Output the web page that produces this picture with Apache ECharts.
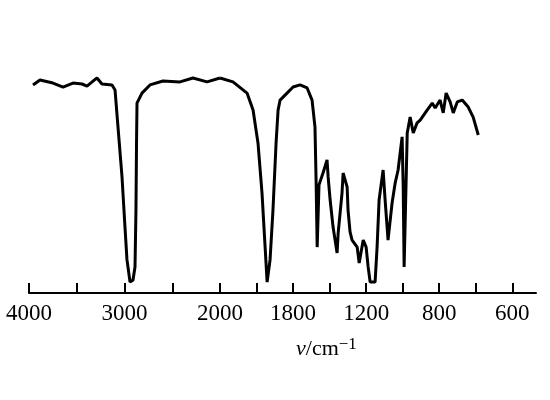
<!DOCTYPE html>
<html><head><meta charset="utf-8">
<script src="https://cdn.jsdelivr.net/npm/echarts@6/dist/echarts.min.js"></script>
<style>html,body{margin:0;padding:0;background:#fff}#c{width:550px;height:400px}</style>
</head><body><div id="c"></div>
<script>
// Wavenumbers (cm^-1) and transmittance (%)
const wnHigh = [3958,3885,3749,3644,3539,3445,3393,3288,3236,3131,3099,3068,3026,2995,2974,2942,2911,2890,2880,2874,2869,2817,2733,2597,2419,2283,2136,2000];
const tHigh  = [89.3,91.4,90.1,88.4,90.1,89.7,88.8,92.3,89.7,89.3,87.1,71.2,49.8,28.3,14.2,4.7,5.6,11.2,35.6,64.4,81.5,85.8,89.3,91.0,90.6,92.3,90.6,92.3];
const wnLow = [2000,1929,1852,1819,1792,1770,1753,1742,1726,1710,1693,1682,1671,1633,1600,1562,1523,1496,1480,1474,1468,1458,1436,1414,1408,1397,1381,1359,1353,1332,1326,1304,1299,1288,1277,1249,1238,1216,1200,1189,1178,1151,1140,1129,1107,1096,1080,1058,1041,1025,1003,997,992,975,959,942,921,904,866,838,822,795,778,762,740,723,701,674,641,614,586];
const tLow  = [92.3,90.6,85.8,78.5,64.4,42.9,19.7,4.7,14.2,35.6,64.4,78.5,82.8,85.8,88.4,89.3,88.0,82.8,71.2,48.5,19.7,46.4,51.5,57.1,49.8,39.9,28.3,17.2,25.8,42.9,51.5,45.5,35.6,26.2,22.7,19.7,12.9,22.7,19.7,11.2,4.7,4.7,19.7,39.9,52.8,39.9,22.7,38.6,47.2,52.8,67.0,45.5,11.2,68.7,75.5,68.7,73.0,74.2,78.5,81.5,79.4,82.8,77.3,85.8,82.0,77.3,82.0,82.8,79.8,75.5,67.8];
// Printed tick labels and the tick positions they sit on
const labelValues = [4000,3000,2000,1600,1200,800,400];
const labelTexts  = ['4000','3000','2000','1800','1200','800','600'];
const lowTicks = [2000,1800,1600,1400,1200,1000,800,600,400];

const fmt = v => { const i = labelValues.indexOf(v); return i >= 0 ? labelTexts[i] : ''; };
const lab = {color:'#000', fontFamily:'Liberation Serif', fontSize:23, margin:9, formatter: fmt};
const line = {show:true, lineStyle:{color:'#000', width:2}};
const tick = {show:true, inside:true, length:10, lineStyle:{color:'#000', width:2}};

const chart = echarts.init(document.getElementById('c'));
chart.setOption({
  animation:false,
  grid:[
    {left:29, width:191, top:60, height:233},
    {left:220, width:316, top:60, height:233}
  ],
  xAxis:[
    {type:'value', gridIndex:0, min:2000, max:4000, interval:500, inverse:true,
     axisLine:line, axisTick:tick, splitLine:{show:false},
     axisLabel:Object.assign({}, lab, {showMinLabel:true, showMaxLabel:true})},
    {type:'value', gridIndex:1, min:270, max:2000, inverse:true,
     axisLine:line, axisTick:Object.assign({}, tick, {customValues:lowTicks}), splitLine:{show:false},
     axisLabel:Object.assign({}, lab, {customValues:labelValues.filter(v => v < 2000)})}
  ],
  yAxis:[
    {type:'value', gridIndex:0, min:0, max:100, show:false},
    {type:'value', gridIndex:1, min:0, max:100, show:false}
  ],
  series:[
    {type:'line', xAxisIndex:0, yAxisIndex:0, showSymbol:false, data:wnHigh.map((w,i)=>[w,tHigh[i]]),
     lineStyle:{color:'#000', width:3}},
    {type:'line', xAxisIndex:1, yAxisIndex:1, showSymbol:false, data:wnLow.map((w,i)=>[w,tLow[i]]),
     lineStyle:{color:'#000', width:3}}
  ],
  graphic:[{
    type:'text', left:296, top:336,
    style:{
      text:'{a|ν}{b|/cm}{c|−1}',
      rich:{
        a:{fontFamily:'Liberation Serif', fontStyle:'italic', fontSize:22, fill:'#000'},
        b:{fontFamily:'Liberation Serif', fontSize:22, fill:'#000'},
        c:{fontFamily:'Liberation Serif', fontSize:17, fill:'#000', verticalAlign:'top', padding:[0,0,10,0]}
      }
    }
  }]
});
</script></body></html>
